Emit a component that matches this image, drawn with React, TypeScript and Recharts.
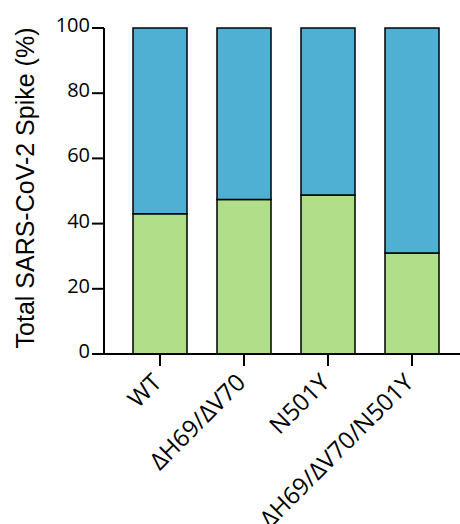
import React from 'react';
import { BarChart, Bar, XAxis, YAxis, Label } from 'recharts';

const categories = ['WT', 'ΔH69/ΔV70', 'N501Y', 'ΔH69/ΔV70/N501Y'];
const greenValues = [43, 47.4, 48.8, 31];
const blueValues = [57, 52.6, 51.2, 69];
const yTicks = [0, 20, 40, 60, 80, 100];

const data = categories.map((name, i) => ({ name, green: greenValues[i], blue: blueValues[i] }));

const TICK_FONT = '"Open Sans", sans-serif';

const YTick = (props: any) => {
  const { x, y, payload } = props;
  return (
    <text x={x} y={y} dy="0.2em" textAnchor="end" fontSize={20} fontFamily={TICK_FONT} fill="#000">
      {payload.value}
    </text>
  );
};

const XTick = (props: any) => {
  const { x, y, payload } = props;
  return (
    <g transform={`translate(${x + 3},${y + 16}) rotate(-45)`}>
      <text x={0} y={0} textAnchor="end" fontSize={24} fontFamily={TICK_FONT} fill="#000">
        {payload.value}
      </text>
    </g>
  );
};

export default function App() {
  return (
    <div style={{ position: 'absolute', left: 0, top: 0, width: 460, height: 524, background: '#fff' }}>
      <BarChart
        width={460}
        height={524}
        data={data}
        margin={{ top: 28, right: 0, bottom: 0, left: 0 }}
        barSize={54}
      >
        <XAxis
          dataKey="name"
          interval={0}
          height={170}
          tickSize={12}
          tickMargin={2}
          tick={<XTick />}
          padding={{ left: 14, right: 6 }}
          axisLine={{ stroke: '#000', strokeWidth: 2 }}
          tickLine={{ stroke: '#000', strokeWidth: 2 }}
        />
        <YAxis
          width={104}
          domain={[0, 100]}
          ticks={yTicks}
          interval={0}
          tickSize={12}
          tickMargin={2}
          tick={<YTick />}
          axisLine={{ stroke: '#000', strokeWidth: 2 }}
          tickLine={{ stroke: '#000', strokeWidth: 2 }}
        >
          <Label
            content={(p: any) => {
              const vb = p.viewBox || {};
              const cx = 25;
              const cy = vb.y + vb.height / 2 - 3;
              return (
                <text
                  x={cx}
                  y={cy}
                  transform={`rotate(-90, ${cx}, ${cy})`}
                  textAnchor="middle"
                  dominantBaseline="central"
                  fontSize={25}
                  fontFamily='"Liberation Sans", Arial, sans-serif'
                  fill="#000"
                >
                  Total SARS-CoV-2 Spike (%)
                </text>
              );
            }}
          />
        </YAxis>
        <Bar dataKey="green" stackId="a" fill="#B1DF89" stroke="#000" strokeWidth={1.5} isAnimationActive={false} />
        <Bar dataKey="blue" stackId="a" fill="#50B0D4" stroke="#000" strokeWidth={1.5} isAnimationActive={false} />
      </BarChart>
    </div>
  );
}
